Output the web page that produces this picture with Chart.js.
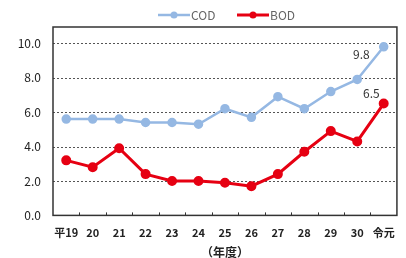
<!DOCTYPE html>
<html><head><meta charset="utf-8">
<script src="https://cdn.jsdelivr.net/npm/chart.js@4/dist/chart.umd.min.js"></script>
<style>html,body{margin:0;padding:0;background:#fff}#wrap{width:406px;height:258px}</style>
</head><body><div id="wrap"><canvas id="c" width="406" height="258"></canvas></div>
<script>
const categories = ['平19','20','21','22','23','24','25','26','27','28','29','30','令元'];
const codValues = [5.6,5.6,5.6,5.4,5.4,5.3,6.2,5.7,6.9,6.2,7.2,7.9,9.8];
const bodValues = [3.2,2.8,3.9,2.4,2.0,2.0,1.9,1.7,2.4,3.7,4.9,4.3,6.5];
const yTicks = [0,2,4,6,8,10];
const xTitle = '（年度）';
const seriesNames = ['COD','BOD'];
const colors = ['#95b8e3','#e60012'];
const FONT = '"Noto Sans CJK JP", "DejaVu Sans", sans-serif';

const boxPlugin = {
  id:'box',
  beforeDatasetsDraw(chart){
    const {ctx, chartArea:a} = chart;
    const ys = chart.scales.y;
    ctx.save();
    ctx.strokeStyle = '#555'; ctx.lineWidth = 1; ctx.setLineDash([2,2]);
    yTicks.forEach(v=>{
      if(v===0) return;
      const py = Math.round(ys.getPixelForValue(v))+0.5;
      ctx.beginPath(); ctx.moveTo(a.left,py); ctx.lineTo(a.right,py); ctx.stroke();
    });
    ctx.restore();
  },
  afterDraw(chart){
    const {ctx, chartArea:a} = chart;
    const xs = chart.scales.x;
    ctx.save();
    ctx.strokeStyle = '#333'; ctx.lineWidth = 1.5;
    ctx.strokeRect(a.left, a.top, a.right-a.left, a.bottom-a.top);
    ctx.lineWidth = 1;
    for(let i=1;i<categories.length;i++){
      const px = Math.round((xs.getPixelForValue(i-1)+xs.getPixelForValue(i))/2)+0.5;
      ctx.beginPath(); ctx.moveTo(px,a.bottom); ctx.lineTo(px,a.bottom-3); ctx.stroke();
    }
    // value labels for last points
    ctx.font = '12px ' + FONT; ctx.fillStyle = '#333'; ctx.textAlign='right'; ctx.textBaseline='middle';
    const n = categories.length-1;
    const p0 = chart.getDatasetMeta(0).data[n];
    const p1 = chart.getDatasetMeta(1).data[n];
    ctx.fillText(codValues[n].toFixed(1), p0.x-14, p0.y+8);
    ctx.fillText(bodValues[n].toFixed(1), p1.x-4, p1.y-10);
    // legend
    const items = [{x:158, lw:2.5},{x:237, lw:3}];
    ctx.textAlign='left'; ctx.font = '12px ' + FONT; ctx.textBaseline='middle';
    items.forEach((it,i)=>{
      const y = 15;
      ctx.strokeStyle = colors[i]; ctx.lineWidth = it.lw;
      ctx.beginPath(); ctx.moveTo(it.x,y); ctx.lineTo(it.x+32,y); ctx.stroke();
      ctx.fillStyle = colors[i]; ctx.beginPath(); ctx.arc(it.x+16,y,3.5,0,Math.PI*2); ctx.fill();
      ctx.fillStyle = '#666'; ctx.fillText(seriesNames[i], it.x+33, y);
    });
    ctx.restore();
  }
};

new Chart(document.getElementById('c'), {
  type:'line',
  data:{
    labels:categories,
    datasets:[
      {label:seriesNames[0], data:codValues, borderColor:colors[0], backgroundColor:colors[0], borderWidth:2.5, pointRadius:3.5, pointHoverRadius:3.5, pointStyle:'circle', tension:0},
      {label:seriesNames[1], data:bodValues, borderColor:colors[1], backgroundColor:colors[1], borderWidth:3, pointRadius:3.5, pointHoverRadius:3.5, pointStyle:'circle', tension:0}
    ]
  },
  options:{
    responsive:false, animation:false, devicePixelRatio:1,
    layout:{padding:{left:0,right:8,top:27,bottom:-2}},
    plugins:{ legend:{display:false}, tooltip:{enabled:false} },
    scales:{
      x:{
        type:'category', offset:true,
        grid:{display:false, drawTicks:false},
        border:{display:false},
        ticks:{color:'#222', font:{family:FONT, size:11, weight:'bold'}, padding:11, maxRotation:0, autoSkip:false},
        title:{display:true, text:xTitle, color:'#222', font:{family:FONT, size:12, weight:'bold'}, padding:{top:-5,bottom:0}}
      },
      y:{
        min:0, max:10.95,
        afterBuildTicks(s){ s.ticks = yTicks.map(v=>({value:v})); },
        afterFit(s){ s.width = 53; },
        grid:{display:false, drawTicks:false},
        border:{display:false},
        ticks:{color:'#222', font:{family:FONT, size:12}, padding:12, callback:v=>Number(v).toFixed(1)}
      }
    }
  },
  plugins:[boxPlugin]
});
</script></body></html>
